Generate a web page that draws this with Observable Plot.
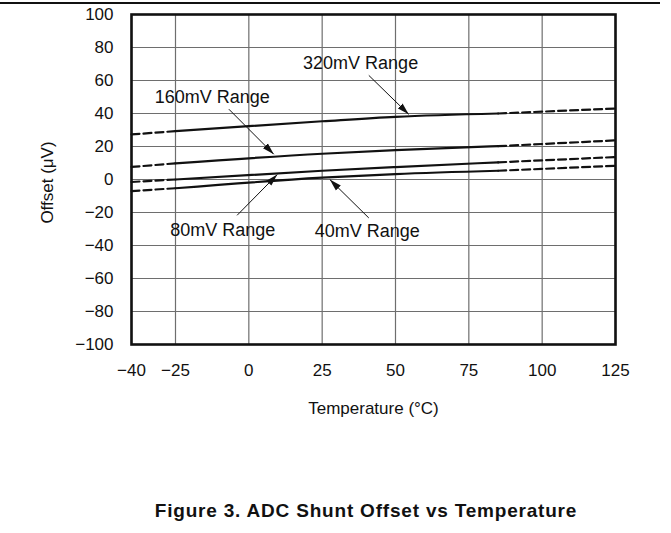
<!DOCTYPE html>
<html>
<head>
<meta charset="utf-8">
<script src="https://cdn.jsdelivr.net/npm/d3@7"></script>
<script src="https://cdn.jsdelivr.net/npm/@observablehq/plot@0.6"></script>
<style>
  html, body { margin: 0; padding: 0; background: #fff; }
  body { width: 671px; height: 533px; position: relative; overflow: hidden;
         font-family: "Liberation Sans", Arial, Helvetica, sans-serif; color: #111; }
  #rule { position: absolute; left: 0; top: 2px; width: 660px; height: 2px; background: #111; }
  #chart { position: absolute; left: 0; top: 0; }
  #title { position: absolute; left: 61px; width: 610px; top: 500px; line-height: 22px;
           text-align: center; font-weight: bold; font-size: 19px; letter-spacing: 0.8px; color: #111; }
</style>
</head>
<body>
<div id="chart"></div>
<div id="rule"></div>
<div id="title">Figure 3. ADC Shunt Offset vs Temperature</div>
<script>
// ---- data ----
const seriesNames = ["320mV Range", "160mV Range", "80mV Range", "40mV Range"];
const temperatures = [-40, -25, 25, 50, 85, 125];
const offset320 = [27.3, 29.3, 35.3, 38.0, 40.0, 43.0];
const offset160 = [7.6, 9.8, 15.6, 17.8, 20.2, 23.7];
const offset80  = [-1.5, 0.0, 5.3, 7.5, 10.4, 13.6];
const offset40  = [-7.0, -5.3, 1.1, 3.3, 5.3, 8.3];
const specMin = -25, specMax = 85;   // solid (specified) range; dashed outside

const xTicks = [-40, -25, 0, 25, 50, 75, 100, 125];
const yTicks = [-100, -80, -60, -40, -20, 0, 20, 40, 60, 80, 100];

// annotation labels and arrows (data coordinates)
const labelTemp   = [38.1, -12.5, -8.9, 40.4];
const labelOffset = [70.4, 50.0, -30.5, -31.5];
const arrowFromTemp   = [40.9, -6.8, -4.0, 40.9];
const arrowFromOffset = [63.1, 42.6, -21.7, -23.3];
const arrowToTemp     = [54.5, 8.5, 9.7, 27.6];
const arrowToOffset   = [39.5, 15.3, 3.0, 0.0];

// ---- build tidy rows ----
const seriesValues = [offset320, offset160, offset80, offset40];
const solidRows = [], dashRows = [];
seriesNames.forEach((name, s) => {
  temperatures.forEach((t, i) => {
    const v = seriesValues[s][i];
    if (t >= specMin && t <= specMax) solidRows.push({series: name, t, v});
    if (t <= specMin) dashRows.push({series: name, seg: name + "-lo", t, v});
    if (t >= specMax) dashRows.push({series: name, seg: name + "-hi", t, v});
  });
});

const fmt = d => d < 0 ? "\u2212" + Math.abs(d) : String(d);

function filledArrow(color) {
  const m = d3.create("svg:marker")
    .attr("viewBox", "-12 -4 12 8")
    .attr("markerWidth", 12)
    .attr("markerHeight", 8)
    .attr("markerUnits", "userSpaceOnUse")
    .attr("orient", "auto")
    .attr("fill", "#111")
    .attr("stroke", "none");
  m.append("path").attr("d", "M-12,-3.5L0,0L-12,3.5Z");
  return m.node();
}

const chart = Plot.plot({
  width: 671,
  height: 430,
  marginLeft: 131,
  marginRight: 56,
  marginTop: 14,
  marginBottom: 86,
  style: {fontFamily: '"Liberation Sans", Arial, Helvetica, sans-serif', fontSize: "17px", color: "#111", background: "#fff"},
  x: {domain: [-40, 125], ticks: xTicks, tickFormat: fmt, tickSize: 0, tickPadding: 19, label: null},
  y: {domain: [-100, 100], ticks: yTicks, tickFormat: fmt, tickSize: 0, tickPadding: 18, label: null},
  marks: [
    Plot.ruleX(xTicks, {stroke: "#6e6e6e", strokeWidth: 1.2}),
    Plot.ruleY(yTicks, {stroke: "#6e6e6e", strokeWidth: 1.2}),
    Plot.line(solidRows, {x: "t", y: "v", z: "series", stroke: "#111", strokeWidth: 2.2, curve: "monotone-x"}),
    Plot.line(dashRows, {x: "t", y: "v", z: "seg", stroke: "#111", strokeWidth: 2.2, strokeDasharray: "8,4"}),
    Plot.link(seriesNames, {
      x1: arrowFromTemp, y1: arrowFromOffset, x2: arrowToTemp, y2: arrowToOffset,
      stroke: "#111", strokeWidth: 1, markerEnd: filledArrow
    }),
    Plot.text(seriesNames, {x: labelTemp, y: labelOffset, text: d => d, fill: "#111", fontSize: 18,
      textAnchor: "middle", lineAnchor: "middle"}),
    Plot.text(["Temperature (\u00B0C)"], {frameAnchor: "bottom", dy: 64, textAnchor: "middle", lineAnchor: "middle",
      fill: "#111", fontSize: 17}),
    Plot.text(["Offset (\u03BCV)"], {frameAnchor: "left", dx: -84, dy: 3, rotate: -90, textAnchor: "middle",
      lineAnchor: "middle", fill: "#111", fontSize: 17}),
    Plot.frame({stroke: "#111", strokeWidth: 2.6})
  ]
});
document.getElementById("chart").appendChild(chart);
</script>
</body>
</html>
